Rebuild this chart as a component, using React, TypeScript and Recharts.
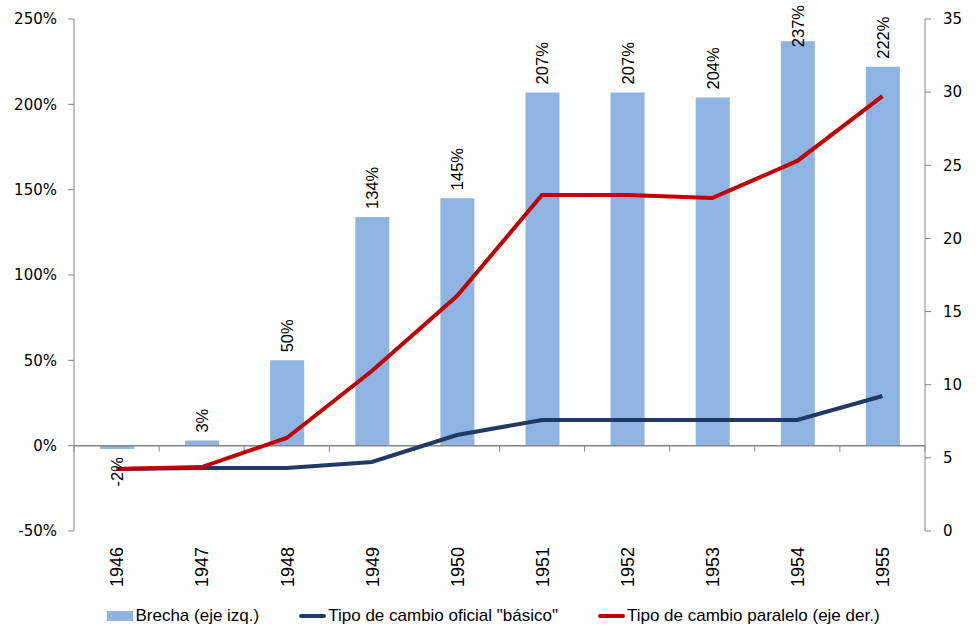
import React from "react";
import {
  ComposedChart,
  Bar,
  Line,
  XAxis,
  YAxis,
  Legend,
  LabelList,
  ReferenceLine,
} from "recharts";

// categories and series
const years = ["1946", "1947", "1948", "1949", "1950", "1951", "1952", "1953", "1954", "1955"];
const brecha = [-2, 3, 50, 134, 145, 207, 207, 204, 237, 222]; // % (left axis)
const oficial = [4.24, 4.3, 4.3, 4.72, 6.56, 7.59, 7.59, 7.59, 7.59, 9.23]; // right axis
const paralelo = [4.24, 4.37, 6.36, 10.94, 16.06, 22.97, 22.97, 22.76, 25.3, 29.73]; // right axis

const leftTicks = [-50, 0, 50, 100, 150, 200, 250];
const rightTicks = [0, 5, 10, 15, 20, 25, 30, 35];

const data = years.map((year, i) => ({
  year,
  brecha: brecha[i],
  oficial: oficial[i],
  paralelo: paralelo[i],
}));

const BAR_COLOR = "#8EB4E3";
const OFICIAL_COLOR = "#1F3B63";
const PARALELO_COLOR = "#C00000";
const AXIS_COLOR = "#868686";
const LABEL_SIZE = 16.5;

const YearTick = (props: any) => {
  const { x, y, payload } = props;
  return (
    <text
      x={x}
      y={y + 16}
      dy="0.38em"
      transform={`rotate(-90, ${x}, ${y + 16})`}
      textAnchor="end"
      fontFamily="'Liberation Sans', Arial, sans-serif"
      fontSize={18}
      fill="#000"
    >
      {payload.value}
    </text>
  );
};

const BarValueLabel = (props: any) => {
  const { x, y, width, height, value } = props;
  const cx = x + width / 2;
  const top = Math.min(y, y + height);
  const bottom = Math.max(y, y + height);
  const neg = value < 0;
  const txt = `${value}%`;
  // rough text length so labels near the top stay inside the chart
  const len = LABEL_SIZE * (0.556 * (txt.length - 1) + 0.889);
  const ay = neg ? bottom + 8 : Math.max(top - 8, 5 + len);
  return (
    <text
      x={cx}
      y={ay}
      dy="0.36em"
      transform={`rotate(-90, ${cx}, ${ay})`}
      textAnchor={neg ? "end" : "start"}
      fontFamily="'Liberation Sans', Arial, sans-serif"
      fontSize={LABEL_SIZE}
      fill="#000"
    >
      {txt}
    </text>
  );
};

// baseline at 0% with category tick marks hanging down
const ZeroAxis = (props: any) => {
  const { x1, x2, y1 } = props;
  const n = years.length;
  const step = (x2 - x1) / n;
  const ticks = [];
  for (let k = 0; k <= n; k++) {
    const tx = x1 + step * k;
    ticks.push(<line key={k} x1={tx} x2={tx} y1={y1} y2={y1 + 6} stroke={AXIS_COLOR} strokeWidth={1} />);
  }
  return (
    <g>
      <line x1={x1} x2={x2} y1={y1} y2={y1} stroke={AXIS_COLOR} strokeWidth={1.5} />
      {ticks}
    </g>
  );
};

const renderLegend = (props: any) => {
  const { payload } = props;
  return (
    <div
      style={{
        display: "flex",
        justifyContent: "center",
        alignItems: "center",
        fontFamily: "'Liberation Sans Narrow', 'Liberation Sans', Arial, sans-serif",
        fontSize: 17,
        color: "#000",
        paddingLeft: 8,
        paddingTop: 5,
      }}
    >
      {(payload || []).map((entry: any, i: number) => (
        <div key={i} style={{ display: "flex", alignItems: "center", marginRight: i < payload.length - 1 ? 40 : 0 }}>
          {entry.type === "rect" ? (
            <span style={{ display: "inline-block", width: 26, height: 10, background: entry.color, marginRight: 2 }} />
          ) : (
            <span style={{ display: "inline-block", width: 27, height: 4, borderRadius: 2, background: entry.color, marginRight: 2 }} />
          )}
          <span>{entry.value}</span>
        </div>
      ))}
    </div>
  );
};

const App: React.FC = () => {
  return (
    <div style={{ position: "absolute", left: 0, top: 0, width: 979, height: 640, background: "#fff" }}>
      <ComposedChart width={979} height={640} data={data} margin={{ top: 19, right: 0, left: 0, bottom: 0 }}>
        <XAxis
          dataKey="year"
          axisLine={false}
          tickLine={false}
          tickSize={0}
          tickMargin={0}
          height={70}
          interval={0}
          tick={<YearTick />}
        />
        <YAxis
          yAxisId="left"
          domain={[-50, 250]}
          ticks={leftTicks}
          tickFormatter={(v: number) => `${v}%`}
          width={74}
          stroke={AXIS_COLOR}
          tickSize={6}
          tickMargin={11}
          tick={{ fill: "#000", fontSize: 15, fontFamily: "'DejaVu Sans', Verdana, sans-serif" }}
          allowDataOverflow
        />
        <YAxis
          yAxisId="right"
          orientation="right"
          domain={[0, 35]}
          ticks={rightTicks}
          width={54}
          stroke={AXIS_COLOR}
          tickSize={6}
          tickMargin={12}
          tick={{ fill: "#000", fontSize: 15, fontFamily: "'DejaVu Sans', Verdana, sans-serif", textAnchor: "start" }}
          allowDataOverflow
        />
        <Legend verticalAlign="bottom" height={39} content={renderLegend} />
        <Bar
          yAxisId="left"
          dataKey="brecha"
          name="Brecha (eje izq.)"
          fill={BAR_COLOR}
          barSize={34}
          isAnimationActive={false}
          legendType="rect"
        >
          <LabelList dataKey="brecha" content={<BarValueLabel />} />
        </Bar>
        <ReferenceLine yAxisId="left" y={0} shape={<ZeroAxis />} />
        <Line
          yAxisId="right"
          type="linear"
          dataKey="oficial"
          name={'Tipo de cambio oficial "básico"'}
          stroke={OFICIAL_COLOR}
          strokeWidth={4}
          dot={false}
          activeDot={false}
          isAnimationActive={false}
          legendType="line"
        />
        <Line
          yAxisId="right"
          type="linear"
          dataKey="paralelo"
          name="Tipo de cambio paralelo (eje der.)"
          stroke={PARALELO_COLOR}
          strokeWidth={4}
          dot={false}
          activeDot={false}
          isAnimationActive={false}
          legendType="line"
        />
      </ComposedChart>
    </div>
  );
};

export default App;
